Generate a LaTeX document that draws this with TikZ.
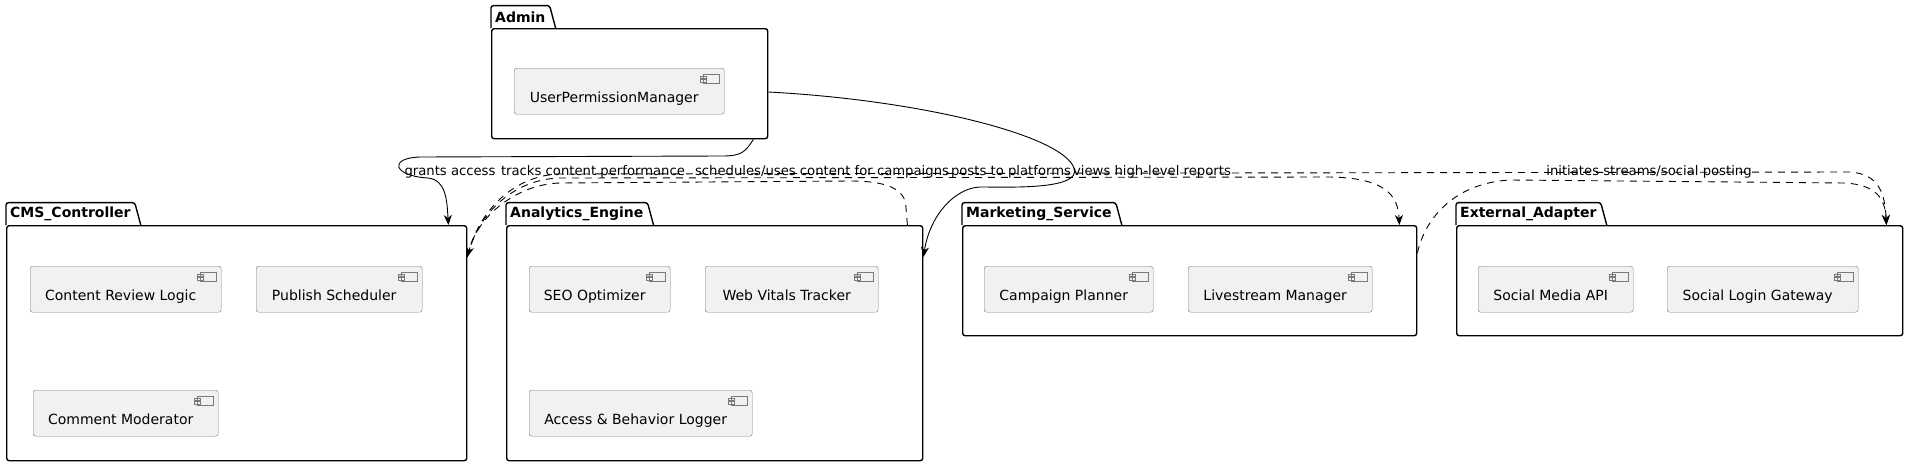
\documentclass[tikz,border=0pt]{standalone}
\usepackage{fontspec}
\setmainfont{DejaVu Sans}
\usetikzlibrary{arrows.meta}

\definecolor{compfill}{HTML}{F1F1F1}
\definecolor{compline}{HTML}{7A7A7A}

\tikzset{
  pkg/.style={draw, line width=1.4pt, rounded corners=2.5pt, anchor=north west, inner sep=0pt},
  pkgtab/.style={anchor=south west, inner xsep=4pt, inner ysep=0pt, minimum height=22pt, font=\bfseries\fontsize{14}{16}\selectfont},
  pkgline/.style={line width=1.4pt, rounded corners=2.5pt},
  comp/.style={draw=compline, fill=compfill, rounded corners=2.5pt, anchor=north west, minimum height=46pt, inner sep=0pt,
    font=\fontsize{14}{16}\selectfont, text height=22pt, text depth=0pt, execute at end node={\hspace*{10pt}},
    path picture={
      \draw[compline, fill=compfill, line width=0.6pt, sharp corners]
        ([xshift=-21pt,yshift=-6pt]path picture bounding box.north east) rectangle ([xshift=-5pt,yshift=-15pt]path picture bounding box.north east)
        ([xshift=-24pt,yshift=-8pt]path picture bounding box.north east) rectangle ([xshift=-18pt,yshift=-10.5pt]path picture bounding box.north east)
        ([xshift=-24pt,yshift=-11.5pt]path picture bounding box.north east) rectangle ([xshift=-18pt,yshift=-14pt]path picture bounding box.north east);
    }},
  lbl/.style={font=\fontsize{13.2}{15}\selectfont, inner sep=0pt},
  conn/.style={line width=0.9pt, -{Stealth[length=10pt,width=8pt,inset=3pt]}},
  dconn/.style={conn, dash pattern=on 7pt off 6pt}
}

\begin{document}
\begin{tikzpicture}[x=1pt, y=-1pt]
	\useasboundingbox (0,0) rectangle (1907,466);

	\node[pkg, minimum width=276pt, minimum height=110pt] (admin) at (491,28) {};
	\node[pkg, minimum width=460pt, minimum height=235pt] (cms) at (6,225) {};
	\node[pkg, minimum width=416pt, minimum height=235pt] (ana) at (506,225) {};
	\node[pkg, minimum width=454pt, minimum height=110pt] (mkt) at (962,225) {};
	\node[pkg, minimum width=446pt, minimum height=110pt] (ext) at (1456,225) {};

	\node[pkgtab] (adminT) at (admin.north west) {Admin};
	\node[pkgtab] (cmsT) at (cms.north west) {CMS\_Controller};
	\node[pkgtab] (anaT) at (ana.north west) {Analytics\_Engine};
	\node[pkgtab] (mktT) at (mkt.north west) {Marketing\_Service};
	\node[pkgtab] (extT) at (ext.north west) {External\_Adapter};
	\draw[pkgline] (adminT.south west) -- (adminT.north west) -- (adminT.north east) -- ([xshift=6pt]adminT.south east);
	\draw[pkgline] (cmsT.south west) -- (cmsT.north west) -- (cmsT.north east) -- ([xshift=6pt]cmsT.south east);
	\draw[pkgline] (anaT.south west) -- (anaT.north west) -- (anaT.north east) -- ([xshift=6pt]anaT.south east);
	\draw[pkgline] (mktT.south west) -- (mktT.north west) -- (mktT.north east) -- ([xshift=6pt]mktT.south east);
	\draw[pkgline] (extT.south west) -- (extT.north west) -- (extT.north east) -- ([xshift=6pt]extT.south east);

	\node[comp, minimum width=210pt] (upm) at (514,68) {UserPermissionManager};

	\node[comp, minimum width=191pt] (review) at (30,266) {Content Review Logic};
	\node[comp, minimum width=166pt] (publish) at (256,266) {Publish Scheduler};
	\node[comp, minimum width=185pt] (moderator) at (33,390) {Comment Moderator};

	\node[comp, minimum width=141pt] (seo) at (529,266) {SEO Optimizer};
	\node[comp, minimum width=173pt] (vitals) at (705,266) {Web Vitals Tracker};
	\node[comp, minimum width=223pt] (logger) at (529,390) {Access \& Behavior Logger};

	\node[comp, minimum width=169pt] (planner) at (984,266) {Campaign Planner};
	\node[comp, minimum width=184pt] (livestream) at (1188,266) {Livestream Manager};

	\node[comp, minimum width=155pt] (socialapi) at (1478,266) {Social Media API};
	\node[comp, minimum width=191pt] (sociallogin) at (1667,266) {Social Login Gateway};

	\draw[conn] ([xshift=-15pt]admin.south east) .. controls (745,152) and (742,156) .. (722,156) -- (420,157)
		.. controls (388,158) and (393,176) .. (428,178) .. controls (446,180) and (447,200) .. ([xshift=-19pt]cms.north east);
	\draw[conn] ([yshift=-64pt]admin.north east) .. controls (920,100) and (1062,135) .. (1074,168)
		.. controls (1082,190) and (1010,187) .. (980,187) .. controls (955,188) and (930,215) .. ([yshift=-32pt]ana.north east);
	\draw[dconn] ([xshift=-16pt]ana.north east) -- (906,208) .. controls (906,188) and (885,181) .. (850,181) -- (560,183)
		.. controls (518,184) and (478,215) .. ([yshift=-32pt]cms.north east);
	\draw[dconn] ([yshift=-32pt]cms.north east) .. controls (478,212) and (515,179) .. (560,178) -- (1330,177)
		.. controls (1385,178) and (1398,195) .. ([xshift=-18pt]mkt.north east);
	\draw[dconn] ([yshift=-32pt]cms.north east) .. controls (478,210) and (515,175) .. (560,174) -- (1850,172)
		.. controls (1880,174) and (1885,195) .. ([xshift=-17pt]ext.north east);
	\draw[dconn] ([yshift=-28pt]mkt.north east) .. controls (1425,218) and (1455,183) .. (1510,180) -- (1845,183)
		.. controls (1878,185) and (1885,200) .. ([xshift=-17pt]ext.north east);

	\node[lbl] (lgrants) at (450,172) {grants access};
	\node[lbl] (ltracks) at (593,172) {tracks content performance};
	\node[lbl] (lschedules) at (822,172) {schedules/uses content for campaigns};
	\node[lbl] (lposts) at (1011,172) {posts to platforms};
	\node[lbl] (lviews) at (1152,172) {views high-level reports};
	\node[lbl] (linitiates) at (1649,172) {initiates streams/social posting};
\end{tikzpicture}
\end{document}
